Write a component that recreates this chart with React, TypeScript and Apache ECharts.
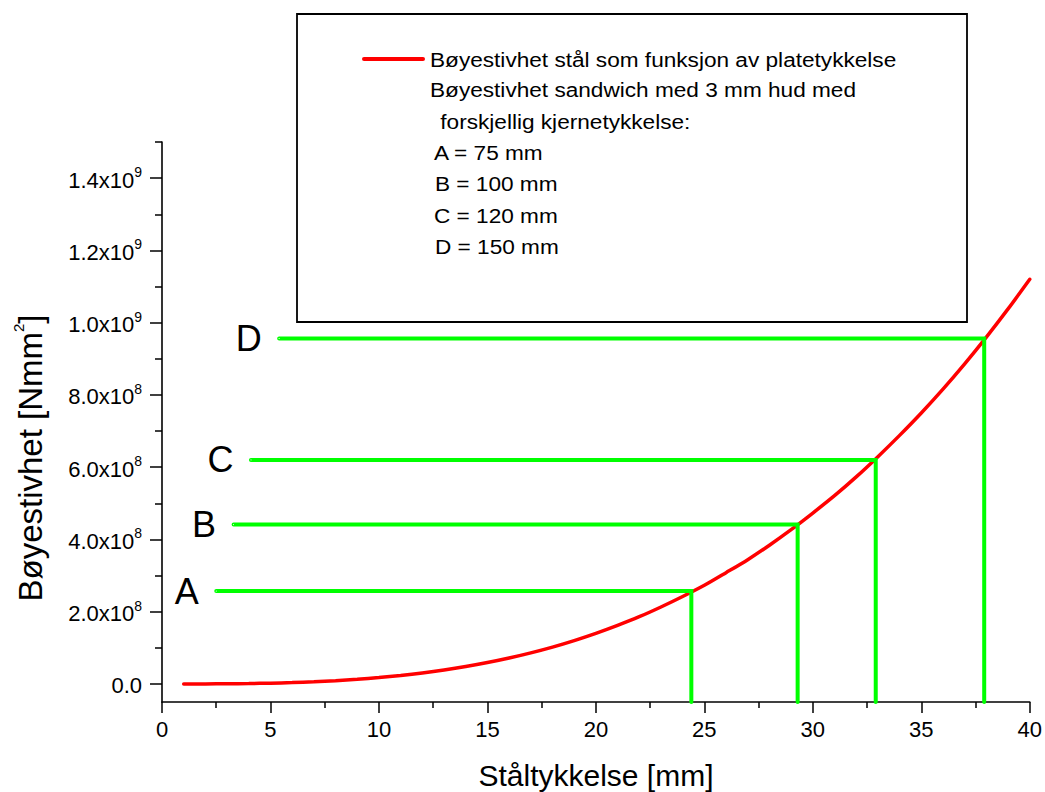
import React, { useEffect, useRef } from 'react';
import * as echarts from 'echarts';

// Steel plate bending stiffness (thickness mm -> N·mm²)
const steelThickness = [
  1, 2, 3, 4, 5, 6, 7, 8, 9, 10, 11, 12, 13, 14, 15, 16, 17, 18, 19, 20,
  21, 22, 23, 24, 25, 26, 27, 28, 29, 30, 31, 32, 33, 34, 35, 36, 37, 38, 39, 40,
];
const steelStiffness = [
  1.75e4, 1.4e5, 4.7e5, 1.12e6, 2.19e6, 3.78e6, 6.0e6, 8.96e6, 1.28e7, 1.75e7,
  2.33e7, 3.02e7, 3.84e7, 4.8e7, 5.91e7, 7.17e7, 8.6e7, 1.02e8, 1.2e8, 1.4e8,
  1.62e8, 1.86e8, 2.13e8, 2.42e8, 2.73e8, 3.08e8, 3.44e8, 3.84e8, 4.27e8, 4.73e8,
  5.21e8, 5.73e8, 6.29e8, 6.88e8, 7.5e8, 8.16e8, 8.86e8, 9.6e8, 1.038e9, 1.12e9,
];

// Sandwich panels (green guide lines)
const sandwichLabels = ['A', 'B', 'C', 'D'];
const sandwichLineStart = [2.5, 3.3, 4.1, 5.4];
const sandwichSteelEquivalent = [24.4, 29.3, 32.9, 37.9];
const sandwichStiffness = [2.57e8, 4.41e8, 6.2e8, 9.56e8];

// Axes
const xMin = 0;
const xMax = 40;
const xInterval = 5;
const yMin = -5e7;
const yMax = 1.5e9;
const yMajorTicks = [0, 2e8, 4e8, 6e8, 8e8, 1e9, 1.2e9, 1.4e9];
const yMinorTicks = [1e8, 3e8, 5e8, 7e8, 9e8, 1.1e9, 1.3e9, 1.5e9];

const xAxisTitle = 'Ståltykkelse [mm]';
const yAxisTitleMain = 'Bøyestivhet [Nmm';
const yAxisTitleSup = '2';
const yAxisTitleEnd = ']';

const legendLines = [
  'Bøyestivhet stål som funksjon av platetykkelse',
  'Bøyestivhet sandwich med 3 mm hud med',
  ' forskjellig kjernetykkelse:',
  'A = 75 mm',
  'B = 100 mm',
  'C = 120 mm',
  'D = 150 mm',
];

const FONT = '"Liberation Sans", Arial, Helvetica, sans-serif';

function formatY(v: number): string {
  if (v === 0) return '{b|0.0}';
  const e = Math.floor(Math.log10(v) + 1e-9);
  const m = (v / Math.pow(10, e)).toFixed(1);
  return `{b|${m}x10}{s|${e}}`;
}

export default function App() {
  const ref = useRef<HTMLDivElement>(null);

  useEffect(() => {
    if (!ref.current) return;
    const chart = echarts.init(ref.current, undefined, { renderer: 'svg' });

    const steelData = steelThickness.map((t, i) => [t, steelStiffness[i]]);

    const greenSeries = sandwichLabels.map((lab, i) => ({
      type: 'line',
      name: lab,
      data: [
        [sandwichLineStart[i], sandwichStiffness[i]],
        [sandwichSteelEquivalent[i], sandwichStiffness[i]],
        [sandwichSteelEquivalent[i], yMin],
      ],
      symbol: 'none',
      lineStyle: { color: '#00ff00', width: 4, cap: 'round', join: 'miter' },
      z: 3,
    }));

    const legendX = [430, 430, 434, 434, 435, 434, 435];
    const legendY = [60, 90, 122, 153, 184, 216, 247];

    const option: any = {
      animation: false,
      backgroundColor: '#ffffff',
      grid: { left: 162, right: 14, top: 142, bottom: 90 },
      xAxis: {
        type: 'value',
        min: xMin,
        max: xMax,
        interval: xInterval,
        axisLine: { show: true, onZero: false, lineStyle: { color: '#000', width: 1.6 } },
        axisTick: { show: true, length: 11, lineStyle: { color: '#000', width: 1.5 } },
        minorTick: { show: true, splitNumber: 2, length: 6, lineStyle: { color: '#000', width: 1.5 } },
        splitLine: { show: false },
        minorSplitLine: { show: false },
        axisLabel: { fontSize: 22, color: '#000', fontFamily: FONT, margin: 16 },
      },
      yAxis: [
        {
          type: 'value',
          min: yMin,
          max: yMax,
          axisLine: { show: true, onZero: false, lineStyle: { color: '#000', width: 1.6 } },
          axisTick: {
            show: true,
            length: 12,
            customValues: yMajorTicks,
            lineStyle: { color: '#000', width: 1.5 },
          },
          splitLine: { show: false },
          axisLabel: {
            customValues: yMajorTicks,
            margin: 20,
            color: '#000',
            formatter: (v: number) => formatY(v),
            rich: {
              b: { fontSize: 22, lineHeight: 26, verticalAlign: 'bottom', fontFamily: FONT, color: '#000' },
              s: { fontSize: 14, lineHeight: 14, verticalAlign: 'top', fontFamily: FONT, color: '#000' },
            },
          },
        },
        {
          type: 'value',
          min: yMin,
          max: yMax,
          position: 'left',
          offset: 0,
          axisLine: { show: false },
          axisTick: {
            show: true,
            length: 7,
            customValues: yMinorTicks,
            lineStyle: { color: '#000', width: 1.5 },
          },
          axisLabel: { show: false },
          splitLine: { show: false },
        },
      ],
      series: [
        {
          type: 'line',
          name: legendLines[0],
          data: steelData,
          smooth: 0.3,
          symbol: 'none',
          lineStyle: { color: '#ff0000', width: 3.5, cap: 'round' },
          z: 2,
        },
        ...greenSeries,
        {
          type: 'scatter',
          data: sandwichLabels.map((_, i) => [sandwichLineStart[i], sandwichStiffness[i]]),
          symbolSize: 1,
          itemStyle: { color: '#ffffff', opacity: 1 },
          label: {
            show: true,
            position: 'left',
            distance: 17,
            formatter: (p: any) => sandwichLabels[p.dataIndex],
            fontSize: 36,
            fontFamily: FONT,
            color: '#000000',
            opacity: 1,
            textBorderWidth: 0,
          },
          z: 4,
        },
      ],
      graphic: [
        {
          type: 'rect',
          shape: { x: 297, y: 14, width: 670, height: 308 },
          style: { fill: 'none', stroke: '#000', lineWidth: 1.8 },
          z: 10,
        },
        {
          type: 'line',
          shape: { x1: 364, y1: 59, x2: 423, y2: 59 },
          style: { stroke: '#ff0000', lineWidth: 4, lineCap: 'round' },
          z: 10,
        },
        ...legendLines.map((t, i) => ({
          type: 'text',
          x: legendX[i],
          y: legendY[i],
          scaleX: 1.16,
          style: {
            text: t,
            fontSize: 19.5,
            fontFamily: FONT,
            fill: '#000',
            textAlign: 'left',
            verticalAlign: 'middle',
          },
          z: 10,
        })),
        {
          type: 'text',
          x: 596,
          y: 775,
          style: {
            text: xAxisTitle,
            fontSize: 30,
            fontFamily: FONT,
            fill: '#000',
            textAlign: 'center',
            verticalAlign: 'middle',
          },
          z: 10,
        },
        {
          type: 'text',
          x: 29,
          y: 458,
          rotation: Math.PI / 2,
          style: {
            text: `{m|${yAxisTitleMain}}{s|${yAxisTitleSup}}{m|${yAxisTitleEnd}}`,
            rich: {
              m: { fontSize: 33, lineHeight: 36, verticalAlign: 'bottom', fontFamily: FONT, fill: '#000' },
              s: { fontSize: 15, lineHeight: 15, verticalAlign: 'top', fontFamily: FONT, fill: '#000' },
            },
            fill: '#000',
            textAlign: 'center',
            verticalAlign: 'middle',
          },
          z: 10,
        },
      ],
    };

    chart.setOption(option);
    return () => chart.dispose();
  }, []);

  return (
    <div
      ref={ref}
      style={{ position: 'fixed', left: 0, top: 0, width: 1045, height: 792, background: '#fff' }}
    />
  );
}
